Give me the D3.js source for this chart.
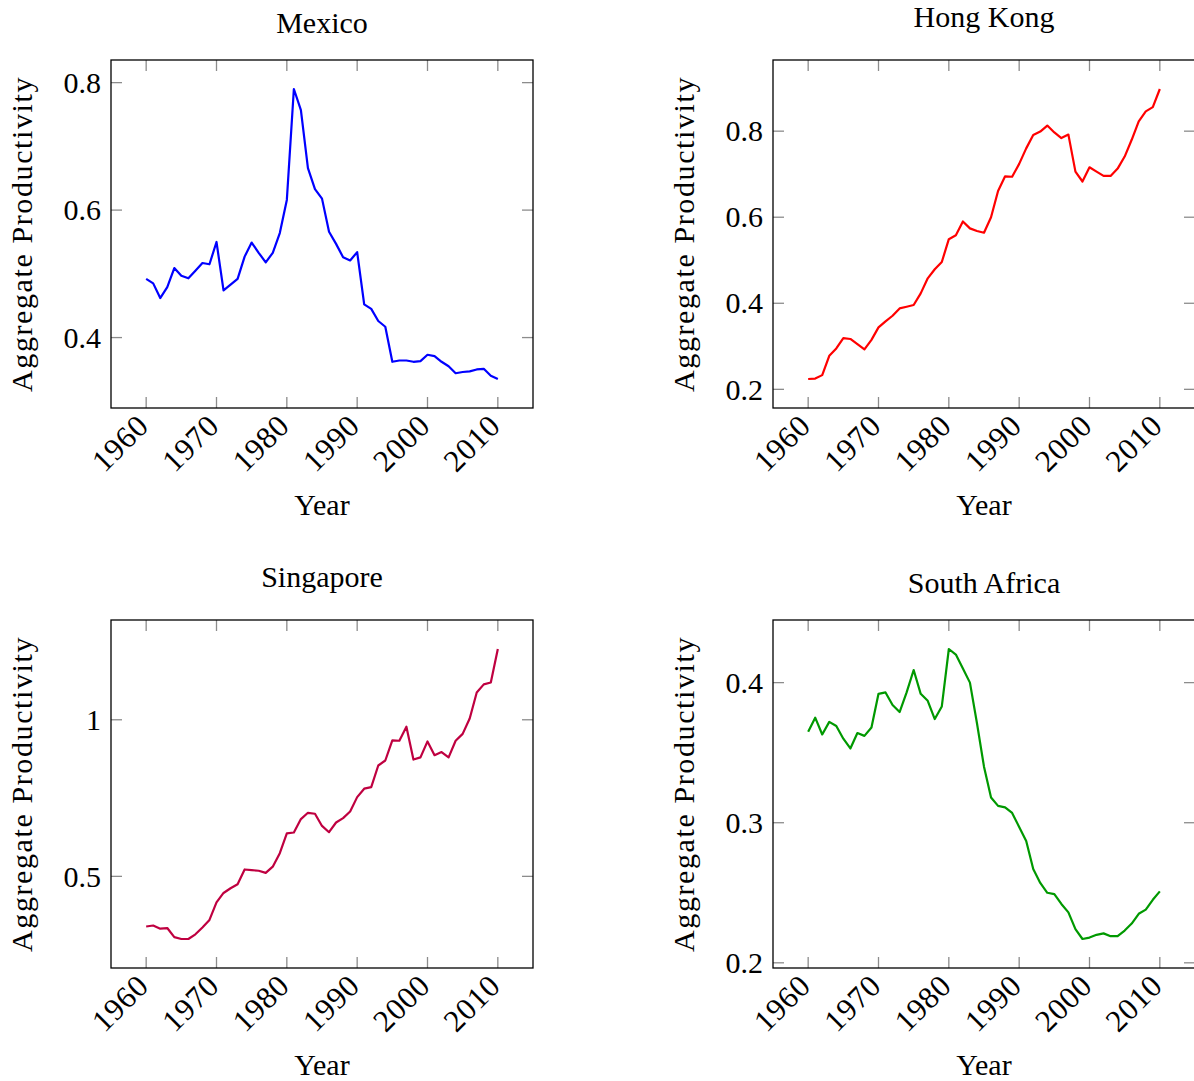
<!DOCTYPE html>
<html>
<head>
<meta charset="utf-8">
<script src="https://cdn.jsdelivr.net/npm/d3@7"></script>
<style>
  body { margin: 0; background: #fff; }
  svg { display: block; }
  text { font-family: "Liberation Serif", "DejaVu Serif", "Times New Roman", Times, serif; }
</style>
</head>
<body>
<div id="chart"></div>
<script>
// years shared by every panel
const years = d3.range(1960, 2011);
const xTicks = [1960, 1970, 1980, 1990, 2000, 2010];

const mexico = [
  0.492, 0.485, 0.462, 0.479, 0.509, 0.497, 0.493, 0.505, 0.517, 0.515,
  0.550, 0.474, 0.483, 0.492, 0.527, 0.549, 0.533, 0.518, 0.533, 0.564,
  0.616, 0.790, 0.757, 0.666, 0.633, 0.618, 0.566, 0.547, 0.526, 0.521,
  0.534, 0.452, 0.445, 0.426, 0.417, 0.362, 0.364, 0.364, 0.362, 0.363,
  0.373, 0.371, 0.362, 0.355, 0.344, 0.346, 0.347, 0.350, 0.351, 0.340,
  0.335,
];
const hongKong = [
  0.224, 0.225, 0.233, 0.278, 0.295, 0.319, 0.317, 0.305, 0.293, 0.315,
  0.344, 0.358, 0.371, 0.388, 0.392, 0.396, 0.423, 0.458, 0.479, 0.496,
  0.549, 0.558, 0.590, 0.574, 0.568, 0.564, 0.600, 0.661, 0.695, 0.694,
  0.724, 0.760, 0.791, 0.799, 0.813, 0.797, 0.784, 0.792, 0.706, 0.683,
  0.716, 0.706, 0.696, 0.696, 0.713, 0.741, 0.780, 0.823, 0.846, 0.856,
  0.898,
];
const singapore = [
  0.340, 0.343, 0.333, 0.335, 0.306, 0.300, 0.300, 0.315, 0.337, 0.361,
  0.417, 0.447, 0.462, 0.475, 0.522, 0.520, 0.518, 0.511, 0.531, 0.574,
  0.637, 0.640, 0.683, 0.703, 0.700, 0.661, 0.641, 0.672, 0.686, 0.707,
  0.753, 0.780, 0.785, 0.854, 0.870, 0.934, 0.933, 0.978, 0.873, 0.880,
  0.931, 0.887, 0.897, 0.880, 0.933, 0.955, 1.004, 1.087, 1.113, 1.119,
  1.226,
];
const southAfrica = [
  0.365, 0.375, 0.363, 0.372, 0.369, 0.360, 0.353, 0.364, 0.362, 0.368,
  0.392, 0.393, 0.384, 0.379, 0.393, 0.409, 0.392, 0.387, 0.374, 0.383,
  0.424, 0.420, 0.410, 0.400, 0.371, 0.340, 0.318, 0.312, 0.311, 0.307,
  0.297, 0.287, 0.267, 0.257, 0.250, 0.249, 0.242, 0.236, 0.224, 0.217,
  0.218, 0.220, 0.221, 0.219, 0.219, 0.223, 0.228, 0.235, 0.238, 0.245,
  0.251,
];

const titles = ['Mexico', 'Hong Kong', 'Singapore', 'South Africa'];
const yTicks = [[0.4, 0.6, 0.8], [0.2, 0.4, 0.6, 0.8], [0.5, 1], [0.2, 0.3, 0.4]];

const panels = [
  { title: titles[0], values: mexico, ticks: yTicks[0], color: '#0000ff', left: 111, top: 60 },
  { title: titles[1], values: hongKong, ticks: yTicks[1], color: '#ff0000', left: 773, top: 60 },
  { title: titles[2], values: singapore, ticks: yTicks[2], color: '#bf0040', left: 111, top: 620 },
  { title: titles[3], values: southAfrica, ticks: yTicks[3], color: '#009900', left: 773, top: 620 },
];

const W = 1194;
const H = 1081;
const boxW = 422;
const boxH = 348;
const tickLen = 11;
const fontSize = 30;
const serif = '"Liberation Serif", "DejaVu Serif", "Times New Roman", Times, serif';

const svg = d3.select('#chart').append('svg')
  .attr('width', W)
  .attr('height', H)
  .attr('font-family', serif);

function drawPanel(p) {
  const g = svg.append('g')
    .attr('transform', `translate(${p.left},${p.top})`);

  // pgfplots style: enlarge limits by 10% of the data range
  const yExt = d3.extent(p.values);
  const pad = (yExt[1] - yExt[0]) * 0.1;
  const x = d3.scaleLinear().domain([1955, 2015]).range([0, boxW]);
  const y = d3.scaleLinear().domain([yExt[0] - pad, yExt[1] + pad]).range([boxH, 0]);

  // Ticks, mirrored on all four sides, pointing inward
  const tickColor = '#8c8c8c';
  g.append('g').selectAll('line.xb')
    .data(xTicks).enter().append('line')
    .attr('x1', (d) => x(d)).attr('x2', (d) => x(d))
    .attr('y1', boxH).attr('y2', boxH - tickLen)
    .attr('stroke', tickColor).attr('stroke-width', 1.3);
  g.append('g').selectAll('line.xt')
    .data(xTicks).enter().append('line')
    .attr('x1', (d) => x(d)).attr('x2', (d) => x(d))
    .attr('y1', 0).attr('y2', tickLen)
    .attr('stroke', tickColor).attr('stroke-width', 1.3);
  g.append('g').selectAll('line.yl')
    .data(p.ticks).enter().append('line')
    .attr('x1', 0).attr('x2', tickLen)
    .attr('y1', (d) => y(d)).attr('y2', (d) => y(d))
    .attr('stroke', tickColor).attr('stroke-width', 1.3);
  g.append('g').selectAll('line.yr')
    .data(p.ticks).enter().append('line')
    .attr('x1', boxW).attr('x2', boxW - tickLen)
    .attr('y1', (d) => y(d)).attr('y2', (d) => y(d))
    .attr('stroke', tickColor).attr('stroke-width', 1.3);

  // Data line
  const line = d3.line()
    .x((d, i) => x(years[i]))
    .y((d) => y(d));
  g.append('path')
    .datum(p.values)
    .attr('d', line)
    .attr('fill', 'none')
    .attr('stroke', p.color)
    .attr('stroke-width', 2.2)
    .attr('stroke-linejoin', 'round');

  // Axis box
  g.append('rect')
    .attr('x', 0).attr('y', 0)
    .attr('width', boxW).attr('height', boxH)
    .attr('fill', 'none')
    .attr('stroke', '#000')
    .attr('stroke-width', 1.3);

  // Y tick labels
  const fmt = d3.format('~g');
  g.append('g').selectAll('text')
    .data(p.ticks).enter().append('text')
    .attr('x', -10)
    .attr('y', (d) => y(d))
    .attr('dy', '0.34em')
    .attr('text-anchor', 'end')
    .attr('font-size', fontSize)
    .text(fmt);

  // X tick labels, rotated 45 degrees
  g.append('g').selectAll('text')
    .data(xTicks).enter().append('text')
    .attr('transform', (d) => `translate(${x(d) - 3},${boxH + 12}) rotate(-45)`)
    .attr('text-anchor', 'end')
    .attr('dy', '0.34em')
    .attr('font-size', 31)
    .attr('letter-spacing', 0.8)
    .text((d) => d);

  // Axis labels
  g.append('text')
    .attr('x', boxW / 2)
    .attr('y', boxH + 107)
    .attr('text-anchor', 'middle')
    .attr('font-size', fontSize)
    .text('Year');

  g.append('text')
    .attr('transform', `translate(-79,${boxH / 2}) rotate(-90)`)
    .attr('text-anchor', 'middle')
    .attr('font-size', fontSize)
    .attr('letter-spacing', 1.6)
    .text('Aggregate Productivity');

  // Title sits on its descenders, like the pgfplots title node
  const drop = /[gjpqy]/.test(p.title) ? 33 : 27;
  g.append('text')
    .attr('x', boxW / 2)
    .attr('y', -drop)
    .attr('text-anchor', 'middle')
    .attr('font-size', fontSize)
    .text(p.title);
}

panels.forEach(drawPanel);
</script>
</body>
</html>
